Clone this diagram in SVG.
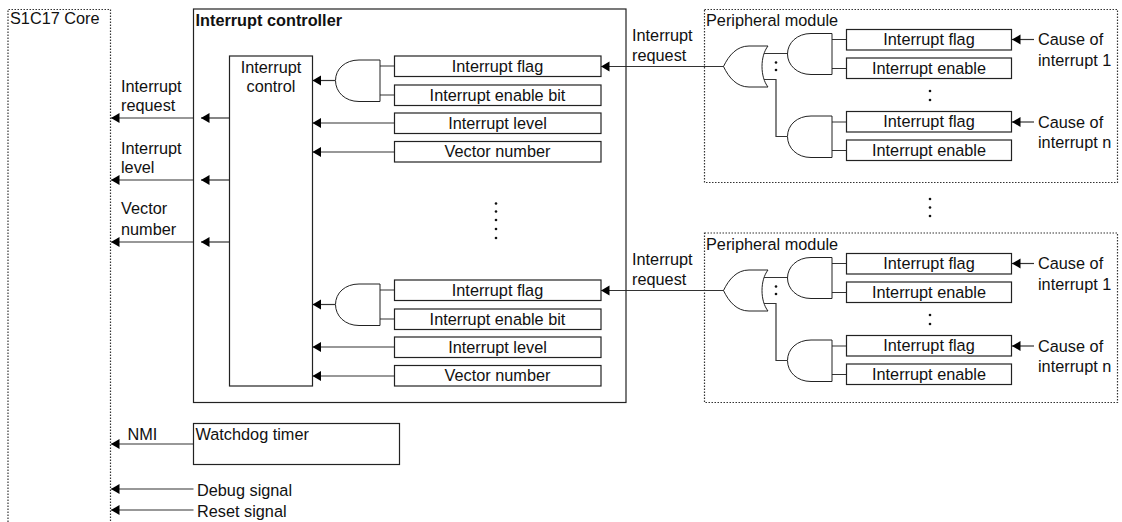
<svg xmlns="http://www.w3.org/2000/svg" xmlns:xlink="http://www.w3.org/1999/xlink" width="1122" height="522" viewBox="0 0 1122 522">
<style>
text{font-family:"Liberation Sans",Arial,sans-serif;font-size:16.3px;fill:#111}
.m{text-anchor:middle}
.b{fill:#fff;stroke:#222;stroke-width:1.2}
.d{fill:none;stroke:#333;stroke-width:1.2;stroke-dasharray:1.5 1.5}
.g{fill:#fff;stroke:#222;stroke-width:1}
.l{fill:none;stroke:#333;stroke-width:1.2}
.a{fill:none;stroke:#333;stroke-width:1.2;marker-end:url(#ah)}
.p{fill:#111}
</style>
<defs>
<marker id="ah" markerUnits="userSpaceOnUse" markerWidth="10" markerHeight="12" refX="8.500" refY="6" orient="auto"><path d="M0 1L8.500 6L0 11Z" fill="#000"/></marker>
<g id="pm">
<text x="706" y="26">Peripheral module</text>
<path class="l" d="M832 39.500H846M832 68.500H846M763 53.500H787M763 79.500H776V136.500H787M832 122H846M832 150.500H846"/>
<path class="a" d="M1034 39.500H1012"/>
<path class="a" d="M1034 122H1012"/>
<path class="g" d="M832 33.500V74.500H811C797 74.500 787.500 65 787.500 54S797 33.500 811 33.500Z"/>
<path class="g" d="M832 116V157.500H811C797 157.500 787.500 148 787.500 136.500S797 116 811 116Z"/>
<path class="g" d="M723.500 66.500C729 55 737 46 749 46H768C760 56 760 77 768 87H749C737 87 729 78 723.500 66.500Z"/>
<rect class="b" x="846.500" y="29.500" width="165" height="20.500"/>
<text class="m" x="929" y="45">Interrupt flag</text>
<rect class="b" x="846.500" y="58" width="165" height="20.500"/>
<text class="m" x="929" y="73.500">Interrupt enable</text>
<rect class="b" x="846.500" y="111.500" width="165" height="20.500"/>
<text class="m" x="929" y="127">Interrupt flag</text>
<rect class="b" x="846.500" y="140" width="165" height="20.500"/>
<text class="m" x="929" y="155.500">Interrupt enable</text>
<text x="1038" y="45">Cause of</text>
<text x="1038" y="65.500">interrupt 1</text>
<text x="1038" y="127.500">Cause of</text>
<text x="1038" y="148">interrupt n</text>
<circle class="p" cx="776" cy="62.500" r="1.300"/>
<circle class="p" cx="776" cy="70" r="1.300"/>
<circle class="p" cx="930" cy="91" r="1.300"/>
<circle class="p" cx="930" cy="100" r="1.300"/>
</g>
<g id="ic">
<path class="a" d="M335 80.500H312.500"/>
<path class="a" d="M394 123H312.500"/>
<path class="a" d="M394 152H312.500"/>
<path class="l" d="M380 66H394M380 95H394"/>
<path class="g" d="M380 60V101.500H359C345 101.500 335.500 92 335.500 80.500S345 60 359 60Z"/>
<rect class="b" x="394.500" y="56" width="206.500" height="20.500"/>
<text class="m" x="497.500" y="71.500">Interrupt flag</text>
<rect class="b" x="394.500" y="85" width="206.500" height="20.500"/>
<text class="m" x="497.500" y="100.500">Interrupt enable bit</text>
<rect class="b" x="394.500" y="113" width="206.500" height="20.500"/>
<text class="m" x="497.500" y="128.500">Interrupt level</text>
<rect class="b" x="394.500" y="141.500" width="206.500" height="20.500"/>
<text class="m" x="497.500" y="157">Vector number</text>
</g>
</defs>
<g id="connectors">
<path class="a" d="M193.500 118H111"/>
<path class="a" d="M229.500 118H201"/>
<path class="a" d="M193.500 180H111"/>
<path class="a" d="M229.500 180H201"/>
<path class="a" d="M193.500 242H111"/>
<path class="a" d="M229.500 242H201"/>
<path class="a" d="M193.500 444H111"/>
<path class="a" d="M193.500 489H111"/>
<path class="a" d="M193.500 510H111"/>
<path class="a" d="M724 66.500H601"/>
<path class="a" d="M724 290.500H601"/>
</g>
<g id="core">
<path class="d" d="M8 522V9.500H110.500V522"/>
<text x="10" y="24">S1C17 Core</text>
</g>
<g id="controller">
<rect class="b" x="193.500" y="9" width="432.500" height="393.500" fill-opacity="0"/>
<text x="195.500" y="26" font-weight="bold">Interrupt controller</text>
</g>
<g id="control">
<rect class="b" x="229.500" y="56" width="83" height="330"/>
<text class="m" x="271" y="72.500">Interrupt</text>
<text class="m" x="271" y="92">control</text>
</g>
<g id="ic-top"><use xlink:href="#ic"/></g>
<g id="ic-bottom"><use xlink:href="#ic" y="224"/></g>
<g id="pm-top"><rect class="d" x="704.500" y="9.500" width="413" height="173"/><use xlink:href="#pm"/></g>
<g id="pm-bottom"><rect class="d" x="704.500" y="233" width="413" height="169.500"/><use xlink:href="#pm" y="224"/></g>
<g id="watchdog">
<rect class="b" x="193.500" y="423.500" width="206" height="41"/>
<text x="195.500" y="440">Watchdog timer</text>
</g>
<g id="labels">
<text x="121" y="92">Interrupt</text>
<text x="121" y="111">request</text>
<text x="121" y="153.500">Interrupt</text>
<text x="121" y="172.500">level</text>
<text x="121" y="214">Vector</text>
<text x="121" y="235">number</text>
<text x="127.500" y="440">NMI</text>
<text x="197" y="496">Debug signal</text>
<text x="197" y="516.500">Reset signal</text>
<text x="632" y="41">Interrupt</text>
<text x="632" y="61">request</text>
<text x="632" y="265">Interrupt</text>
<text x="632" y="285">request</text>
<circle class="p" cx="496" cy="203.500" r="1.300"/>
<circle class="p" cx="496" cy="211.500" r="1.300"/>
<circle class="p" cx="496" cy="220" r="1.300"/>
<circle class="p" cx="496" cy="229" r="1.300"/>
<circle class="p" cx="496" cy="238" r="1.300"/>
<circle class="p" cx="930" cy="199" r="1.300"/>
<circle class="p" cx="930" cy="207.500" r="1.300"/>
<circle class="p" cx="930" cy="216" r="1.300"/>
</g>
</svg>
